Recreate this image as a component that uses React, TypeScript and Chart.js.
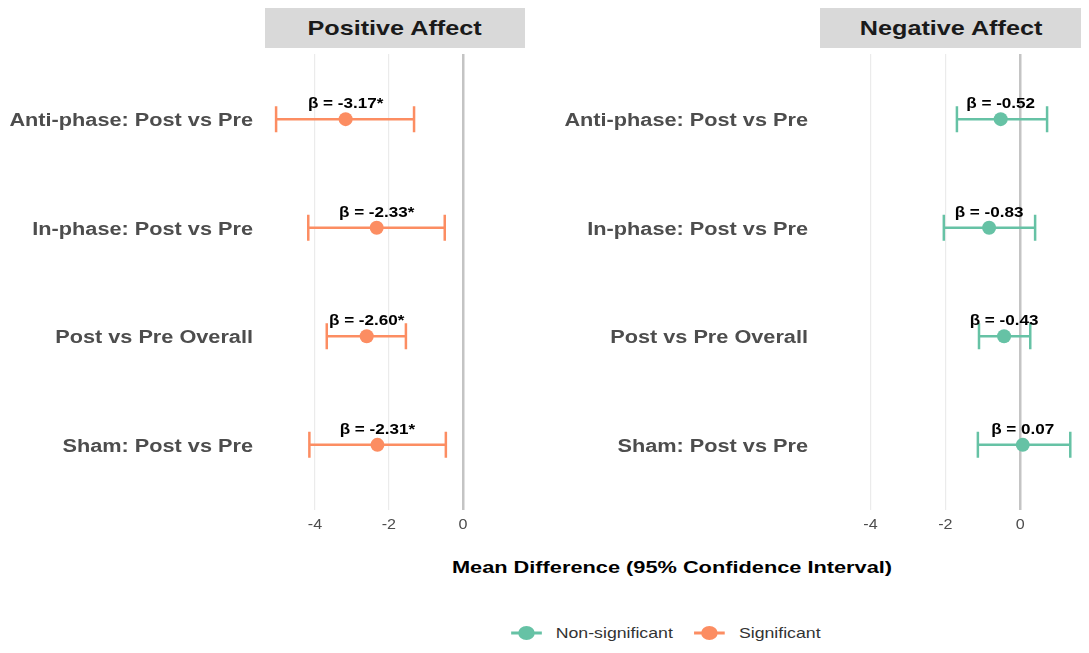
import React, { useEffect, useRef } from "react";
import { Chart, registerables } from "chart.js";
Chart.register(...registerables);

const categories = ["Anti-phase: Post vs Pre", "In-phase: Post vs Pre", "Post vs Pre Overall", "Sham: Post vs Pre"];
const posEst = [-3.17, -2.33, -2.6, -2.31];
const posLow = [-5.05, -4.18, -3.68, -4.15];
const posHigh = [-1.32, -0.49, -1.54, -0.46];
const posSig = [true, true, true, true];
const negEst = [-0.52, -0.83, -0.43, 0.07];
const negLow = [-1.69, -2.04, -1.1, -1.13];
const negHigh = [0.72, 0.4, 0.27, 1.34];
const negSig = [false, false, false, false];
const xTicks = [-4, -2, 0];

const GREEN = "#66C2A5";
const ORANGE = "#FC8D62";
const FONT = "'Liberation Sans', Arial, sans-serif";

function stretchText(ctx: any, text: string, x: number, y: number, s: number, align: string) {
  ctx.save();
  ctx.translate(x, y);
  ctx.scale(s, 1);
  ctx.textAlign = align;
  ctx.fillText(text, 0, 0);
  ctx.restore();
}

function Panel({ est, low, high, sig, left }: { est: number[]; low: number[]; high: number[]; sig: boolean[]; left: number }) {
  const ref = useRef<HTMLCanvasElement>(null);
  useEffect(() => {
    const errPlugin = {
      id: "err",
      afterDatasetsDraw(chart: any) {
        const { ctx, scales } = chart;
        const xs = scales.x, ys = scales.y;
        ctx.save();
        ctx.fillStyle = "#4d4d4d";
        ctx.font = `bold 17.5px ${FONT}`;
        ctx.textBaseline = "middle";
        categories.forEach((c, i) => stretchText(ctx, c, 253, ys.getPixelForValue(i + 1) + 2, 1.24, "right"));
        ctx.font = `14px ${FONT}`;
        ctx.textBaseline = "top";
        xTicks.forEach((t) => stretchText(ctx, String(t), xs.getPixelForValue(t), chart.chartArea.bottom + 8, 1.15, "center"));
        ctx.restore();
        est.forEach((v, i) => {
          const y = ys.getPixelForValue(i + 1);
          const x0 = xs.getPixelForValue(low[i]), x1 = xs.getPixelForValue(high[i]);
          const c = sig[i] ? ORANGE : GREEN;
          ctx.save();
          ctx.strokeStyle = c;
          ctx.lineWidth = 2.5;
          ctx.beginPath();
          ctx.moveTo(x0, y); ctx.lineTo(x1, y);
          ctx.moveTo(x0, y - 13); ctx.lineTo(x0, y + 13);
          ctx.moveTo(x1, y - 13); ctx.lineTo(x1, y + 13);
          ctx.stroke();
          const px = xs.getPixelForValue(v);
          ctx.fillStyle = c;
          ctx.beginPath(); ctx.arc(px, y, 7, 0, Math.PI * 2); ctx.fill();
          ctx.fillStyle = "#000";
          ctx.font = `bold 14px ${FONT}`;
          ctx.textBaseline = "bottom";
          stretchText(ctx, `β = ${v.toFixed(2)}${sig[i] ? "*" : ""}`, px, y - 8, 1.22, "center");
          ctx.restore();
        });
      },
    };
    const chart = new Chart(ref.current!, {
      type: "scatter",
      data: { datasets: [{ data: est.map((v, i) => ({ x: v, y: i + 1 })), pointRadius: 0 }] },
      options: {
        animation: false,
        responsive: false,
        layout: { padding: { top: 54, right: 6, left: 0, bottom: 0 } },
        plugins: { legend: { display: false }, tooltip: { enabled: false } },
        scales: {
          x: {
            min: -5.35, max: 1.68,
            afterBuildTicks: (s: any) => { s.ticks = xTicks.map((v) => ({ value: v })); },
            afterFit: (s: any) => { s.height = 35; },
            border: { display: false },
            grid: {
              color: (c: any) => (c.tick && c.tick.value === 0 ? "#c4c4c4" : "#ebebeb"),
              lineWidth: (c: any) => (c.tick && c.tick.value === 0 ? 2.5 : 1.2),
              drawTicks: false,
            },
            ticks: { color: "rgba(0,0,0,0)", font: { family: FONT, size: 14 }, padding: 8, callback: (v: any) => String(v) },
          },
          y: {
            min: 0.4, max: 4.6, reverse: true,
            afterBuildTicks: (s: any) => { s.ticks = [1, 2, 3, 4].map((v) => ({ value: v })); },
            afterFit: (s: any) => { s.width = 265; },
            border: { display: false },
            grid: { display: false },
            ticks: {
              color: "rgba(0,0,0,0)", font: { family: FONT, size: 17.5, weight: "bold" }, padding: 12,
              callback: (v: any) => categories[Number(v) - 1] ?? "",
            },
          },
        },
      },
      plugins: [errPlugin],
    } as any);
    return () => chart.destroy();
  }, []);
  return <canvas ref={ref} width={left === 0 ? 531 : 534} height={545} style={{ position: "absolute", left, top: 0 }} />;
}

function Strip({ text, left, width }: { text: string; left: number; width: number }) {
  return (
    <div style={{ position: "absolute", left, top: 8, width, height: 40, background: "#d9d9d9", display: "flex", alignItems: "center", justifyContent: "center", font: `bold 21px ${FONT}`, color: "#1a1a1a" }}>
      <span style={{ display: "inline-block", transform: "scaleX(1.2)" }}>{text}</span>
    </div>
  );
}

function LegendItem({ color, label }: { color: string; label: string }) {
  return (
    <div style={{ display: "flex", alignItems: "center", marginRight: 16 }}>
      <svg width="30" height="16" style={{ marginRight: 10 }}>
        <line x1="2" y1="8" x2="28" y2="8" stroke={color} strokeWidth="3" />
        <circle cx="15" cy="8" r="7" fill={color} />
      </svg>
      <span>{label}</span>
    </div>
  );
}

export default function App() {
  return (
    <div style={{ position: "relative", width: 1089, height: 653, margin: -8, background: "#fff", overflow: "hidden" }}>
      <Panel est={posEst} low={posLow} high={posHigh} sig={posSig} left={0} />
      <Panel est={negEst} low={negLow} high={negHigh} sig={negSig} left={555} />
      <Strip text="Positive Affect" left={265} width={260} />
      <Strip text="Negative Affect" left={820} width={263} />
      <div style={{ position: "absolute", left: 263, width: 818, top: 558, textAlign: "center", font: `bold 17px ${FONT}`, color: "#000", transform: "scaleX(1.28)" }}>
        Mean Difference (95% Confidence Interval)
      </div>
      <div style={{ position: "absolute", left: 265, width: 818, top: 624, display: "flex", justifyContent: "center", font: `15px ${FONT}`, color: "#333", transform: "scaleX(1.18)" }}>
        <LegendItem color={GREEN} label="Non-significant" />
        <LegendItem color={ORANGE} label="Significant" />
      </div>
    </div>
  );
}
